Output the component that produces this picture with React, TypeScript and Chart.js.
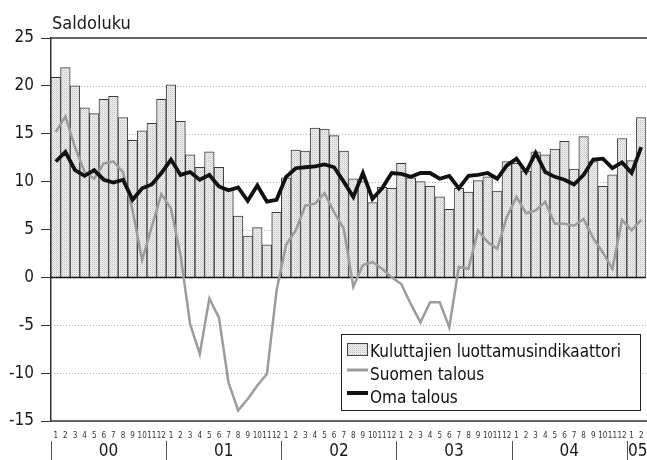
import React, { useEffect, useRef } from "react";
import { Chart, registerables } from "chart.js";

Chart.register(...registerables);

// ---- Data ----
const YEARS = ["00", "01", "02", "03", "04", "05"];
const MONTHS_IN_YEAR = [12, 12, 12, 12, 12, 2];
const MONTH_NAMES = ["1", "2", "3", "4", "5", "6", "7", "8", "9", "10", "11", "12"];

// Kuluttajien luottamusindikaattori (bars), Jan 2000 – Feb 2005
const KULUTTAJIEN = [
  20.9, 21.9, 20.0, 17.7, 17.1, 18.6, 18.9, 16.7, 14.3, 15.3, 16.1, 18.6,
  20.1, 16.3, 12.8, 11.5, 13.1, 11.5, 9.2, 6.4, 4.3, 5.2, 3.4, 6.8,
  10.4, 13.3, 13.2, 15.6, 15.5, 14.8, 13.2, 10.3, 10.0, 7.8, 9.4, 9.3,
  11.9, 10.4, 10.0, 9.5, 8.4, 7.1, 9.3, 8.9, 10.1, 10.5, 9.0, 12.1,
  11.9, 11.1, 13.1, 12.8, 13.4, 14.2, 11.3, 14.7, 12.1, 9.5, 10.7, 14.5,
  12.2, 16.7,
];

// Suomen talous (grey line)
const SUOMEN = [
  15.2, 16.8, 13.6, 11.0, 10.3, 11.9, 12.1, 11.0, 7.0, 1.8, 5.3, 8.7,
  7.2, 2.3, -4.9, -8.0, -2.2, -4.2, -11.0, -13.9, -12.7, -11.3, -10.1, -1.4,
  3.4, 4.9, 7.5, 7.7, 8.8, 6.8, 5.1, -1.0, 1.3, 1.6, 0.9, 0.0,
  -0.7, -2.8, -4.7, -2.6, -2.6, -5.2, 1.1, 0.9, 4.9, 3.7, 3.0, 6.3,
  8.4, 6.7, 7.0, 7.9, 5.6, 5.6, 5.4, 6.1, 4.1, 2.6, 0.9, 6.0,
  4.9, 6.0,
];

// Oma talous (black line)
const OMA = [
  12.1, 13.1, 11.2, 10.6, 11.2, 10.2, 9.9, 10.2, 8.1, 9.3, 9.7, 10.9,
  12.3, 10.7, 11.0, 10.2, 10.7, 9.5, 9.1, 9.4, 8.0, 9.6, 7.9, 8.1,
  10.5, 11.4, 11.5, 11.6, 11.8, 11.5, 10.0, 8.4, 10.9, 8.2, 9.3, 10.9,
  10.8, 10.5, 10.9, 10.9, 10.3, 10.6, 9.3, 10.6, 10.7, 10.9, 10.3, 11.7,
  12.4, 11.0, 13.0, 11.0, 10.5, 10.2, 9.7, 10.7, 12.3, 12.4, 11.4, 12.0,
  10.9, 13.6,
];

const Y_MIN = -15;
const Y_MAX = 25;
const Y_STEP = 5;
const GRID_VALUES = [20, 15, 10, 5, -5, -10];

const TITLE = "Saldoluku";
const LEGEND_LABELS = [
  "Kuluttajien luottamusindikaattori",
  "Suomen talous",
  "Oma talous",
];

const CATEGORIES: string[] = [];
MONTHS_IN_YEAR.forEach((n) => {
  for (let m = 0; m < n; m++) CATEGORIES.push(MONTH_NAMES[m]);
});

const FONT =
  '"Liberation Sans Narrow", "Arial Narrow", "DejaVu Sans Condensed", "Liberation Sans", sans-serif';
const GREY = "#9c9c9c";
const BLACK = "#111111";
const BAR_BORDER = "#3c3c3c";

function makePattern(): CanvasPattern | string {
  const c = document.createElement("canvas");
  c.width = 2;
  c.height = 2;
  const g = c.getContext("2d");
  if (!g) return "#e4e4e4";
  g.fillStyle = "#f3f3f3";
  g.fillRect(0, 0, 2, 2);
  g.fillStyle = "#c2c2c2";
  g.fillRect(0, 0, 1, 1);
  g.fillStyle = "#dadada";
  g.fillRect(1, 1, 1, 1);
  const p = g.createPattern(c, "repeat");
  return p || "#e4e4e4";
}

export default function App() {
  const ref = useRef<HTMLCanvasElement | null>(null);

  useEffect(() => {
    const canvas = ref.current;
    if (!canvas) return;
    const pattern = makePattern();

    const decor = {
      id: "decor",
      beforeDatasetsDraw(chart: any) {
        const { ctx, chartArea } = chart;
        const y = chart.scales.y;
        ctx.save();
        ctx.strokeStyle = "#b4b4b4";
        ctx.lineWidth = 1;
        ctx.setLineDash([1, 2]);
        GRID_VALUES.forEach((v) => {
          const py = Math.round(y.getPixelForValue(v)) + 0.5;
          ctx.beginPath();
          ctx.moveTo(chartArea.left, py);
          ctx.lineTo(chartArea.right, py);
          ctx.stroke();
        });
        ctx.setLineDash([]);
        ctx.strokeStyle = "#333";
        ctx.lineWidth = 1.5;
        [Y_MAX, Y_MIN].forEach((v) => {
          const py = y.getPixelForValue(v);
          ctx.beginPath();
          ctx.moveTo(chartArea.left, py);
          ctx.lineTo(chartArea.right + 1, py);
          ctx.stroke();
        });
        ctx.restore();
      },
      afterDatasetDraw(chart: any, args: any) {
        if (args.index !== 0) return;
        const { ctx, chartArea } = chart;
        const py = chart.scales.y.getPixelForValue(0);
        ctx.save();
        ctx.strokeStyle = "#111";
        ctx.lineWidth = 1.5;
        ctx.beginPath();
        ctx.moveTo(chartArea.left, py);
        ctx.lineTo(chartArea.right, py);
        ctx.stroke();
        ctx.restore();
      },
      afterDraw(chart: any) {
        const { ctx, chartArea } = chart;
        const x = chart.scales.x;
        ctx.save();
        // title
        ctx.fillStyle = "#1a1a1a";
        ctx.font = `18px ${FONT}`;
        ctx.textAlign = "left";
        ctx.textBaseline = "alphabetic";
        ctx.fillText(TITLE, 52, 29);

        // month labels
        ctx.font = `8px ${FONT}`;
        ctx.textAlign = "center";
        ctx.textBaseline = "middle";
        ctx.fillStyle = "#333";
        CATEGORIES.forEach((lab, i) => {
          ctx.fillText(lab, x.getPixelForValue(i), 435.5);
        });

        // year separators and labels
        ctx.strokeStyle = "#555";
        ctx.lineWidth = 1;
        ctx.font = `17px ${FONT}`;
        ctx.fillStyle = "#1a1a1a";
        let start = 0;
        YEARS.forEach((yr, yi) => {
          const n = MONTHS_IN_YEAR[yi];
          const left =
            start === 0
              ? chartArea.left
              : (x.getPixelForValue(start - 1) + x.getPixelForValue(start)) / 2;
          const sx = Math.round(left) + 0.5;
          ctx.beginPath();
          ctx.moveTo(sx, 441);
          ctx.lineTo(sx, 460);
          ctx.stroke();
          const first = x.getPixelForValue(start);
          const last = x.getPixelForValue(start + n - 1);
          let cx = (first + last) / 2;
          if (n < 6) cx = left + 11;
          ctx.fillText(yr, cx, 452);
          start += n;
        });

        // legend
        const bx = 341.5, by = 334.5, bw = 299, bh = 76;
        ctx.fillStyle = "#fff";
        ctx.fillRect(bx, by, bw, bh);
        ctx.strokeStyle = "#222";
        ctx.lineWidth = 1;
        ctx.strokeRect(bx, by, bw, bh);

        ctx.fillStyle = pattern as any;
        ctx.fillRect(347, 343, 21, 13);
        ctx.strokeStyle = "#444";
        ctx.strokeRect(347.5, 343.5, 20, 12);

        ctx.strokeStyle = GREY;
        ctx.lineWidth = 3;
        ctx.beginPath();
        ctx.moveTo(347, 370);
        ctx.lineTo(368, 370);
        ctx.stroke();

        ctx.strokeStyle = BLACK;
        ctx.lineWidth = 4;
        ctx.beginPath();
        ctx.moveTo(347, 393);
        ctx.lineTo(368, 393);
        ctx.stroke();

        ctx.fillStyle = "#111";
        ctx.font = `17px ${FONT}`;
        ctx.textAlign = "left";
        ctx.textBaseline = "alphabetic";
        const baselines = [357, 380, 402.5];
        LEGEND_LABELS.forEach((t, i) => ctx.fillText(t, 370, baselines[i]));
        ctx.restore();
      },
    };

    const chart = new Chart(canvas, {
      type: "bar",
      data: {
        labels: CATEGORIES,
        datasets: [
          {
            type: "bar",
            label: LEGEND_LABELS[0],
            data: KULUTTAJIEN,
            backgroundColor: pattern as any,
            borderColor: BAR_BORDER,
            borderWidth: 1,
            borderSkipped: "start",
            categoryPercentage: 1,
            barPercentage: 1,
            order: 3,
          },
          {
            type: "line",
            label: LEGEND_LABELS[1],
            data: SUOMEN,
            borderColor: GREY,
            borderWidth: 2.5,
            pointRadius: 0,
            tension: 0,
            fill: false,
            order: 2,
          },
          {
            type: "line",
            label: LEGEND_LABELS[2],
            data: OMA,
            borderColor: BLACK,
            borderWidth: 3.8,
            pointRadius: 0,
            tension: 0,
            fill: false,
            order: 1,
          },
        ] as any,
      },
      options: {
        responsive: false,
        animation: false,
        devicePixelRatio: 1,
        layout: { padding: { top: 38, bottom: 39, right: 1, left: 0 } },
        plugins: {
          legend: { display: false },
          title: { display: false },
          tooltip: { enabled: false },
        },
        scales: {
          x: {
            type: "category",
            display: false,
            offset: true,
            grid: { display: false },
          },
          y: {
            min: Y_MIN,
            max: Y_MAX,
            afterFit: (s: any) => {
              s.width = 51;
            },
            ticks: {
              stepSize: Y_STEP,
              padding: 7,
              color: "#1a1a1a",
              font: { family: FONT, size: 17 },
            },
            grid: {
              drawOnChartArea: false,
              drawTicks: true,
              tickLength: 10,
              color: "#333",
              lineWidth: 1,
            },
            border: { display: true, color: "#333", width: 1.5 },
          },
        },
      },
      plugins: [decor],
    } as any);

    return () => chart.destroy();
  }, []);

  return (
    <div style={{ position: "fixed", left: 0, top: 0, width: 647, height: 460, background: "#fff" }}>
      <canvas ref={ref} width={647} height={460} style={{ display: "block", width: 647, height: 460 }} />
    </div>
  );
}
